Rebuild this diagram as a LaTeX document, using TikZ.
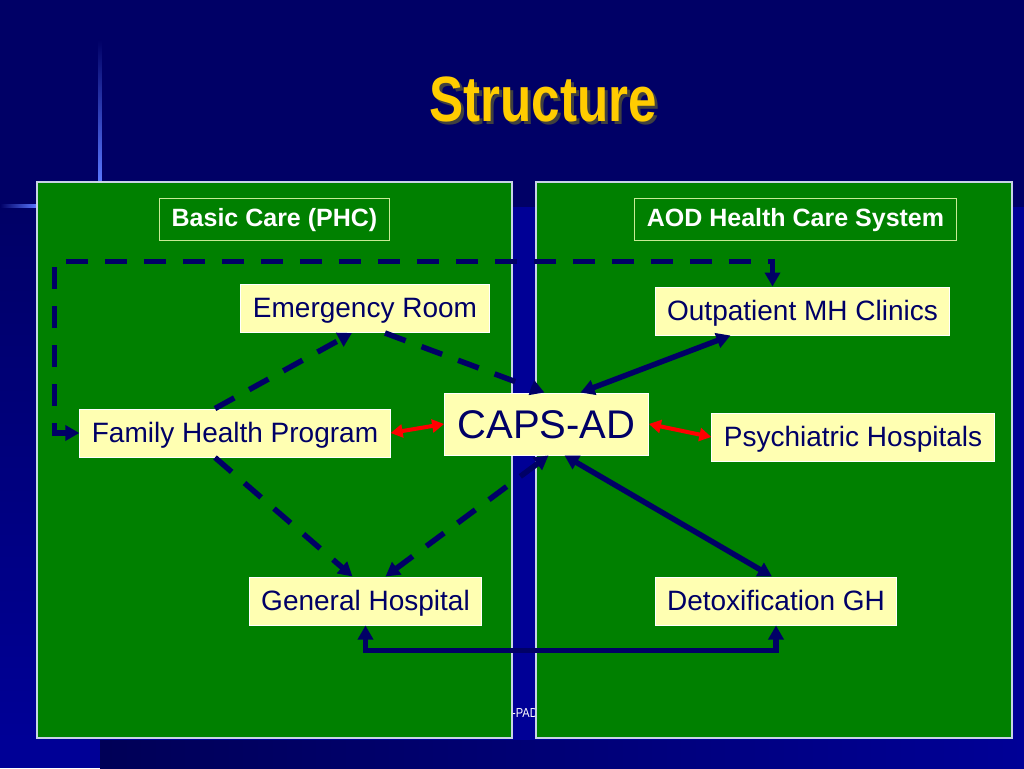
\documentclass[tikz,border=0pt]{standalone}
\usepackage{fontspec}
\setmainfont{Liberation Sans}
\usepackage{graphicx}
\usetikzlibrary{arrows.meta,positioning,calc}
\definecolor{slidenavy}{RGB}{0,0,102}
\definecolor{slideblue}{RGB}{0,0,150}
\definecolor{glowblue}{RGB}{90,120,255}
\definecolor{panelgreen}{RGB}{0,128,0}
\definecolor{boxyellow}{RGB}{255,255,178}
\definecolor{titleyellow}{RGB}{255,204,0}
\definecolor{hdrline}{RGB}{200,235,150}
\definecolor{panelline}{RGB}{200,210,230}

\begin{document}
\begin{tikzpicture}[
  x=1pt, y=-1pt,
  >={Triangle[length=14pt,width=15pt]},
  box/.style={draw=white, line width=1pt, fill=boxyellow, text=slidenavy,
              font=\fontsize{28}{32}\selectfont, inner xsep=12pt,
              minimum height=48pt, text height=21pt, text depth=3pt},
  hdr/.style={draw=hdrline, line width=0.8pt, text=white,
              font=\fontsize{25}{28}\selectfont\bfseries, inner xsep=12.5pt,
              minimum height=42pt, text height=18pt, text depth=4pt},
  panel/.style={fill=panelgreen, draw=panelline, line width=1.5pt},
  arr/.style={<->, line width=5.5pt, slidenavy},
  darr/.style={line width=5.5pt, slidenavy, dash pattern=on 22pt off 17pt},
  redarr/.style={<->, >={Triangle[length=12pt,width=13pt]}, line width=4pt, red},
]
\useasboundingbox (0,0) rectangle (1024,768);

%% ---- BACKGROUND ----
\fill[slidenavy] (0,0) rectangle (1024,768);
\fill[slideblue] (0,207) rectangle (1024,768);
\shade[top color=slidenavy, bottom color=slideblue] (0,207) rectangle (37,740);
\shade[left color=slidenavy!85!black, right color=slideblue] (100,740) rectangle (1024,768);
\shade[top color=slidenavy, bottom color=glowblue] (98.5,40) rectangle (101.5,182);
\shade[left color=slidenavy, right color=glowblue] (0,204.5) rectangle (37,207.5);

%% ---- TITLE ----
\node[font=\fontsize{64}{70}\selectfont\bfseries, text=black!75] (tshadow) at (546,102)
  {\scalebox{0.8}[1]{Structure}};
\node[font=\fontsize{64}{70}\selectfont\bfseries, text=titleyellow] (title) at (543,99)
  {\scalebox{0.8}[1]{Structure}};

%% ---- FOOTER (mostly hidden behind panels) ----
\node[font=\fontsize{13}{14}\selectfont, text=white] (foot) at (525,713)
  {\scalebox{0.85}[1]{-PAD}};

%% ---- PANELS ----
\draw[panel] (37,182) rectangle (512,738);
\draw[panel] (536,182) rectangle (1012,738);

%% ---- HEADERS ----
\node[hdr] (bc)  at (274.5,219.5) {Basic Care (PHC)};
\node[hdr] (aod) at (795.5,219)   {AOD Health Care System};

%% ---- BOXES ----
\node[box] (er)  at (365,308.5) {Emergency Room};
\node[box] (op)  at (802.5,311) {Outpatient MH Clinics};
\node[box] (fhp) at (235,433)   {Family Health Program};
\node[box, font=\fontsize{40}{44}\selectfont, minimum height=62pt,
      text height=29pt, text depth=1pt, inner xsep=13pt] (caps) at (546.5,424) {CAPS-AD};
\node[box] (ph)  at (853,437)   {Psychiatric Hospitals};
\node[box] (gh)  at (365.5,601) {General Hospital};
\node[box] (dgh) at (776,601)   {Detoxification GH};

%% ---- DASHED LINKS ----
\draw[darr, <->] (fhp.west) -- ++(-25,0) |- ($(op.north)+(-30,-25)$) -- ($(op.north)+(-30,0)$);
\draw[darr, ->] ($(fhp.north)+(-20,0)$) -- ($(er.south)+(-13,0)$);
\draw[darr, ->] ($(er.south)+(20,0)$) -- ($(caps.north)+(-2,0)$);
\draw[darr, ->] ($(fhp.south)+(-20,0)$) -- ($(gh.north)+(-13,0)$);
\draw[darr, <->] ($(caps.south)+(2,0)$) -- ($(gh.north)+(20,0)$);

%% ---- SOLID LINKS ----
\draw[arr] ($(op.south)+(-72,0)$) -- ($(caps.north)+(34,0)$);
\draw[arr] ($(caps.south)+(18,0)$) -- ($(dgh.north)+(-4,0)$);
\draw[arr] (gh.south) -- ++(0,25) -| (dgh.south);
\draw[redarr] (fhp.east) -- (caps.west);
\draw[redarr] (caps.east) -- (ph.west);

\end{tikzpicture}
\end{document}
